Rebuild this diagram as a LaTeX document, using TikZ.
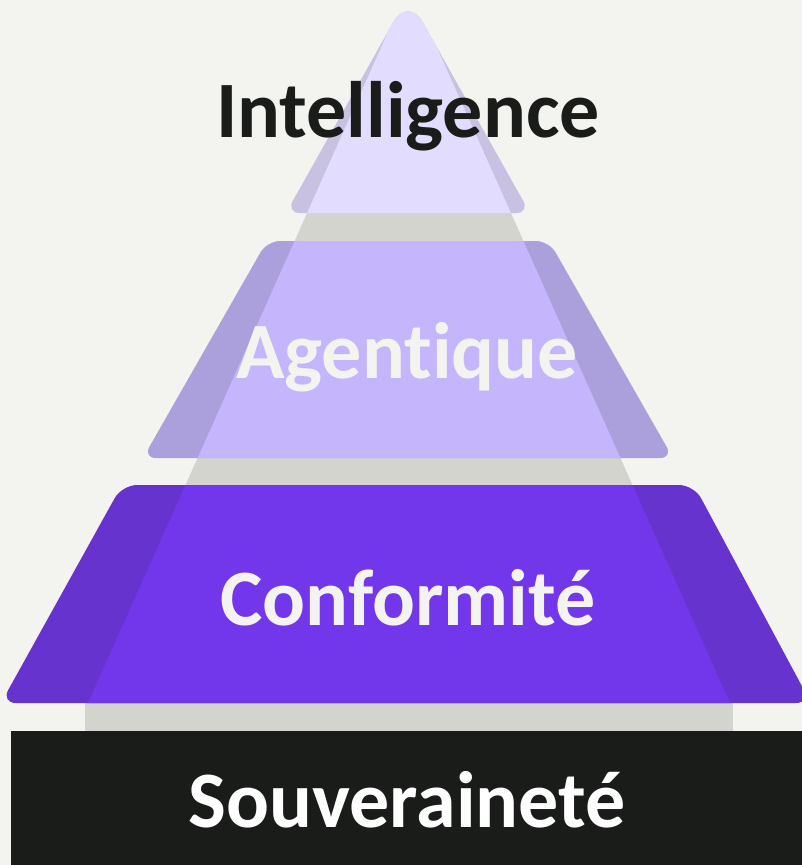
\documentclass[tikz,border=0pt]{standalone}
\usepackage{fontspec}
\setmainfont[Ligatures={NoCommon}]{Carlito}
\definecolor{bgc}{HTML}{F3F3EF}
\definecolor{grayc}{HTML}{D4D4CF}
\definecolor{louta}{HTML}{C8C1E1}
\definecolor{lina}{HTML}{E2DCFE}
\definecolor{loutb}{HTML}{AB9FDC}
\definecolor{linb}{HTML}{C4B5FC}
\definecolor{loutc}{HTML}{6633CF}
\definecolor{linc}{HTML}{7337EB}
\definecolor{darkc}{HTML}{1A1C1A}
\tikzset{
  lbl/.style={font=\fontsize{80}{82}\selectfont\bfseries, anchor=base, inner sep=0pt}
}
\def\toptri{(408,213) -- (530,213) [rounded corners=30pt] -- (408,-4) [rounded corners=14pt] -- (286,213) -- cycle}
\begin{document}
\begin{tikzpicture}[x=1pt,y=-1pt]
\useasboundingbox (0,0) rectangle (802,865);
\clip (0,0) rectangle (802,865);
\fill[bgc] (0,0) rectangle (802,865);
% gray column (visible between layers)
\fill[grayc] (409-0.447*215,200) -- (409+0.447*215,200) -- (409+0.447*719,704) -- (409-0.447*719,704) -- cycle;
\fill[grayc] (85,700) rectangle (733,731);
% layer 1
\fill[louta, rounded corners=14pt] \toptri;
\begin{scope}
  \clip[rounded corners=14pt] \toptri;
  \fill[lina] (409,-15) -- (730.4,704) -- (87.6,704) -- cycle;
\end{scope}
% layer 2
\fill[loutb, rounded corners=13pt] (408,241) -- (549,241) -- (673,458) -- (143,458) -- (267,241) -- cycle;
\begin{scope}
  \clip[rounded corners=13pt] (408,241) -- (549,241) -- (673,458) -- (143,458) -- (267,241) -- cycle;
  \fill[linb] (409,-15) -- (730.4,704) -- (87.6,704) -- cycle;
\end{scope}
% layer 3
\fill[loutc, rounded corners=15pt] (408,485) -- (694,485) -- (811,703) -- (1,703) -- (122,485) -- cycle;
\begin{scope}
  \clip[rounded corners=15pt] (408,485) -- (694,485) -- (811,703) -- (1,703) -- (122,485) -- cycle;
  \fill[linc] (409,-15) -- (730.4,704) -- (87.6,704) -- cycle;
\end{scope}
% base bar
\fill[darkc] (11,731) rectangle (810,870);
% labels
\node[lbl, text=darkc] (t1) at (408,137) {Intelligence};
\node[lbl, text=bgc] (t2) at (407,378) {Agentique};
\node[lbl, text=bgc] (t3) at (408,625) {Conformité};
\node[lbl, text=white] (t4) at (407,827) {Souveraineté};
\end{tikzpicture}
\end{document}
